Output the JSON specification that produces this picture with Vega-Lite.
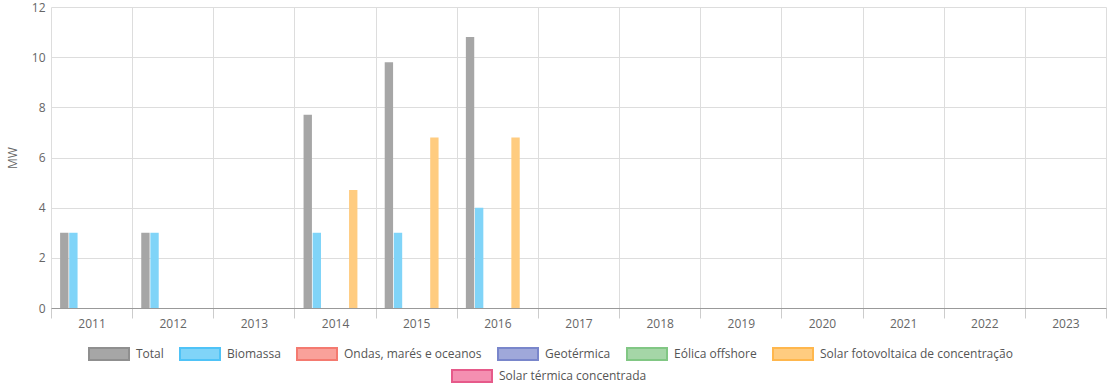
{
  "$schema": "https://vega.github.io/schema/vega-lite/v6.json",
  "width": 1055,
  "height": 301,
  "padding": {"left": 6, "top": 1, "right": 4, "bottom": 4},
  "background": "white",
  "config": {
    "font": "Open Sans",
    "view": {"stroke": null},
    "axis": {"labelColor": "#666666", "titleColor": "#666666", "labelFontSize": 12, "titleFontSize": 12, "titleFontWeight": "normal", "gridColor": "#dddddd", "tickColor": "#cccccc", "domainColor": "#999999"}
  },
  "data": {
    "values": [
      {"ano": "2011", "serie": "Total", "mw": 3},
      {"ano": "2011", "serie": "Biomassa", "mw": 3},
      {"ano": "2011", "serie": "Solar térmica concentrada", "mw": 0},
      {"ano": "2012", "serie": "Total", "mw": 3},
      {"ano": "2012", "serie": "Biomassa", "mw": 3},
      {"ano": "2013", "serie": "Total", "mw": 0},
      {"ano": "2014", "serie": "Total", "mw": 7.7},
      {"ano": "2014", "serie": "Biomassa", "mw": 3},
      {"ano": "2014", "serie": "Solar fotovoltaica de concentração", "mw": 4.7},
      {"ano": "2015", "serie": "Total", "mw": 9.8},
      {"ano": "2015", "serie": "Biomassa", "mw": 3},
      {"ano": "2015", "serie": "Solar fotovoltaica de concentração", "mw": 6.8},
      {"ano": "2016", "serie": "Total", "mw": 10.8},
      {"ano": "2016", "serie": "Biomassa", "mw": 4},
      {"ano": "2016", "serie": "Solar fotovoltaica de concentração", "mw": 6.8},
      {"ano": "2017", "serie": "Total", "mw": 0},
      {"ano": "2018", "serie": "Total", "mw": 0},
      {"ano": "2019", "serie": "Total", "mw": 0},
      {"ano": "2020", "serie": "Total", "mw": 0},
      {"ano": "2021", "serie": "Total", "mw": 0},
      {"ano": "2022", "serie": "Total", "mw": 0},
      {"ano": "2023", "serie": "Total", "mw": 0}
    ]
  },
  "encoding": {
    "x": {
      "field": "ano", "type": "nominal", "title": null,
      "scale": {"paddingInner": 0, "paddingOuter": 0},
      "axis": {"labelAngle": 0, "tickBand": "extent", "grid": true, "tickSize": 10, "labelPadding": 0, "domainColor": "#999999"}
    },
    "xOffset": {
      "field": "serie", "type": "nominal",
      "scale": {"domain": ["Total", "Biomassa", "Ondas, marés e oceanos", "Geotérmica", "Eólica offshore", "Solar fotovoltaica de concentração", "Solar térmica concentrada"], "paddingInner": 0.08, "paddingOuter": 1}
    },
    "y": {
      "field": "mw", "type": "quantitative", "title": "MW",
      "scale": {"domain": [0, 12]},
      "axis": {"tickCount": 6, "domain": false, "ticks": false, "labelPadding": 6, "titlePadding": 12}
    }
  },
  "layer": [
    {
      "mark": {"type": "bar", "strokeWidth": 0},
      "encoding": {
        "color": {
          "field": "serie", "type": "nominal", "title": null,
          "scale": {"domain": ["Total", "Biomassa", "Ondas, marés e oceanos", "Geotérmica", "Eólica offshore", "Solar fotovoltaica de concentração", "Solar térmica concentrada"],
            "range": ["#a6a6a6", "#80d4f8", "#f9a19a", "#9fa8da", "#a5d6a7", "#ffcc80", "#f48fb1"]},
          "legend": {
            "orient": "none", "legendX": 37, "legendY": 336, "direction": "horizontal",
            "values": ["Total", "Biomassa", "Ondas, marés e oceanos", "Geotérmica", "Eólica offshore", "Solar fotovoltaica de concentração"],
            "symbolType": "M-1,-0.6L3,-0.6L3,0.6L-1,0.6Z", "symbolSize": 400, "symbolStrokeWidth": 2,
            "labelFontSize": 12, "labelColor": "#555555", "labelLimit": 400, "labelOffset": 26,
            "columnPadding": 12,
            "encode": {"symbols": {"update": {"stroke": {"scale": "stroke", "field": "value"}, "strokeWidth": {"value": 2}}}}
          }
        },
        "stroke": {
          "field": "serie", "type": "nominal",
          "scale": {"domain": ["Total", "Biomassa", "Ondas, marés e oceanos", "Geotérmica", "Eólica offshore", "Solar fotovoltaica de concentração", "Solar térmica concentrada"],
            "range": ["#8f8f8f", "#4fc3f7", "#f47a70", "#7986cb", "#81c784", "#ffb74d", "#e65a8a"]},
          "legend": null
        }
      }
    },
    {
      "transform": [{"filter": "datum.serie === 'Solar térmica concentrada'"}],
      "mark": {"type": "bar", "strokeWidth": 0},
      "encoding": {
        "color": {
          "field": "serie", "type": "nominal", "title": null,
          "scale": {"domain": ["Solar térmica concentrada"], "range": ["#f48fb1"]},
          "legend": {
            "orient": "none", "legendX": 400, "legendY": 358, "direction": "horizontal",
            "symbolType": "M-1,-0.6L3,-0.6L3,0.6L-1,0.6Z", "symbolSize": 400, "symbolStrokeWidth": 2,
            "labelFontSize": 12, "labelColor": "#555555", "labelLimit": 400, "labelOffset": 26,
            "encode": {"symbols": {"update": {"stroke": {"value": "#e65a8a"}, "strokeWidth": {"value": 2}}}}
          }
        }
      }
    }
  ],
  "resolve": {"scale": {"color": "independent"}, "legend": {"color": "independent"}}
}
